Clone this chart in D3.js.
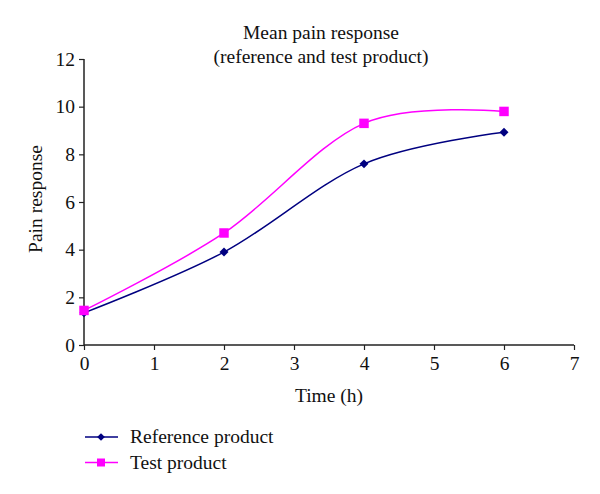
<!DOCTYPE html>
<html><head><meta charset="utf-8">
<script src="https://cdn.jsdelivr.net/npm/d3@7"></script>
<style>body{margin:0;background:#fff}svg{display:block}text{font-family:"Liberation Serif","DejaVu Serif",serif;fill:#111}</style>
</head><body>
<script>
const times = [0, 2, 4, 6];
const referenceValues = [1.35, 3.9, 7.6, 8.93];
const testValues = [1.45, 4.7, 9.3, 9.8];
const xTicks = [0, 1, 2, 3, 4, 5, 6, 7];
const yTicks = [0, 2, 4, 6, 8, 10, 12];
const seriesNames = ["Reference product", "Test product"];
const seriesColors = ["#000080", "#FF00FF"];

const W = 600, H = 494;
const FS = "19.5px";
const svg = d3.select("body").append("svg").attr("width", W).attr("height", H);
const x = d3.scaleLinear().domain([0, 7]).range([84, 574]);
const y = d3.scaleLinear().domain([0, 12]).range([345, 59]);

// axes
const xAxis = d3.axisBottom(x).tickValues(xTicks).tickSize(5).tickPadding(6).tickFormat(d3.format("d"));
const yAxis = d3.axisLeft(y).tickValues(yTicks).tickSize(5).tickPadding(4).tickFormat(d3.format("d"));
const gx = svg.append("g").attr("transform", "translate(0,345)").call(xAxis);
const gy = svg.append("g").attr("transform", "translate(84,0)").call(yAxis);
[gx, gy].forEach(g => {
  g.select(".domain").attr("stroke", "#222").attr("stroke-width", 1.5);
  g.selectAll(".tick line").attr("stroke", "#222").attr("stroke-width", 1.2);
  g.selectAll(".tick text").style("font-size", FS).style("font-family", '"Liberation Serif","DejaVu Serif",serif').attr("fill", "#111");
});
gx.select(".domain").attr("d", "M84,0H574");
gy.select(".domain").attr("d", "M0,59V345");

// titles
svg.append("text").attr("x", 321).attr("y", 39).attr("text-anchor", "middle").style("font-size", FS).text("Mean pain response");
svg.append("text").attr("x", 321).attr("y", 63).attr("text-anchor", "middle").style("font-size", FS).text("(reference and test product)");
svg.append("text").attr("x", 329).attr("y", 402).attr("text-anchor", "middle").style("font-size", FS).text("Time (h)");
svg.append("text").attr("transform", "translate(42,199) rotate(-90)").attr("text-anchor", "middle").style("font-size", FS).text("Pain response");

const line = d3.line().x(d => x(d[0])).y(d => y(d[1])).curve(d3.curveCardinal.tension(0));
const series = [referenceValues, testValues];
series.forEach((vals, i) => {
  const pts = times.map((t, j) => [t, vals[j]]);
  svg.append("path").datum(pts).attr("d", line).attr("fill", "none")
    .attr("stroke", seriesColors[i]).attr("stroke-width", 1.5);
  const size = i === 0 ? 40 : 90;
  svg.append("g").selectAll("path").data(pts).join("path")
    .attr("transform", d => `translate(${x(d[0])},${y(d[1])})` + (i === 0 ? " rotate(45)" : ""))
    .attr("d", d3.symbol(d3.symbolSquare, size)).attr("fill", seriesColors[i]);
});

// legend
seriesNames.forEach((name, i) => {
  const ly = 437 + i * 25.5;
  const size = i === 0 ? 30 : 64;
  svg.append("line").attr("x1", 85).attr("x2", 118).attr("y1", ly).attr("y2", ly)
    .attr("stroke", seriesColors[i]).attr("stroke-width", 1.5);
  svg.append("path").attr("transform", `translate(101,${ly})` + (i === 0 ? " rotate(45)" : ""))
    .attr("d", d3.symbol(d3.symbolSquare, size)).attr("fill", seriesColors[i]);
  svg.append("text").attr("x", 130).attr("y", ly + 6).style("font-size", FS).text(name);
});
</script>
</body></html>
